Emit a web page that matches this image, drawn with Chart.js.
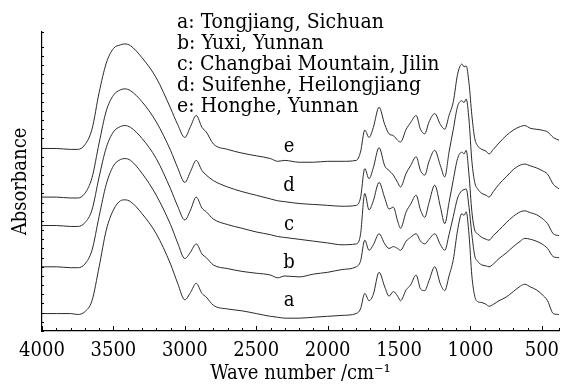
<!DOCTYPE html>
<html>
<head>
<meta charset="utf-8">
<script src="https://cdn.jsdelivr.net/npm/chart.js@4.4.0/dist/chart.umd.min.js"></script>
<style>
  body { margin: 0; background: #fff; }
  #wrap { width: 567px; height: 385px; }
</style>
</head>
<body>
<div id="wrap"><canvas id="ftir" width="567" height="385"></canvas></div>
<script>
// wave numbers (cm-1)
const wavenumbers = [4000, 3900, 3800, 3750, 3700, 3650, 3600, 3550, 3500, 3450, 3420, 3380, 3300, 3200, 3100, 3050, 3000, 2960, 2920, 2880, 2850, 2800, 2700, 2600, 2500, 2400, 2350, 2300, 2200, 2100, 2000, 1900, 1800, 1770, 1740, 1710, 1680, 1640, 1600, 1570, 1540, 1510, 1490, 1450, 1420, 1380, 1350, 1320, 1290, 1250, 1210, 1180, 1150, 1120, 1090, 1060, 1045, 1030, 1010, 990, 970, 950, 920, 890, 870, 840, 800, 750, 700, 650, 620, 580, 540, 500, 460, 420, 380];

// stacked absorbance (arbitrary units, offsets included)
const seriesA = [19, 19, 19, 18, 21, 33, 70, 110, 132, 142, 143, 141, 128, 106, 73, 52, 34, 42, 52, 41, 37, 28, 24, 22, 19, 16, 15, 14, 14, 15, 16, 17, 19, 24, 41, 33, 40, 64, 48, 38, 43, 38, 33, 45, 50, 61, 46, 44, 55, 70, 51, 44, 60, 78, 110, 128, 126, 130, 105, 60, 38, 32, 31, 29, 27, 29, 33, 37, 43, 49, 51, 48, 45, 40, 33, 19, 18];
const seriesB = [70, 70, 69, 69, 73, 88, 125, 160, 180, 187, 188, 186, 172, 148, 116, 96, 79, 86, 95, 84, 80, 72, 68, 65, 63, 61, 58, 60, 59, 62, 64, 67, 70, 76, 99, 88, 94, 106, 95, 90, 92, 90, 88, 98, 102, 106, 98, 95, 100, 106, 94, 88, 105, 125, 145, 153, 154, 155, 135, 105, 82, 76, 72, 71, 70, 73, 79, 85, 92, 98, 101, 100, 98, 95, 90, 81, 80];
const seriesC = [115, 115, 114, 114, 118, 132, 168, 200, 217, 223, 224, 222, 210, 188, 155, 136, 121, 132, 146, 134, 130, 122, 116, 112, 108, 105, 103, 102, 100, 98, 96, 94, 95, 105, 150, 132, 142, 162, 145, 133, 135, 120, 112, 130, 138, 148, 132, 124, 140, 159, 135, 117, 140, 165, 188, 195, 193, 197, 170, 130, 110, 106, 102, 100, 99, 104, 110, 118, 125, 130, 131, 129, 127, 123, 117, 106, 104];
const seriesD = [146, 146, 145, 145, 150, 167, 205, 240, 257, 263, 264, 262, 250, 228, 197, 178, 162, 174, 186, 175, 170, 164, 157, 152, 148, 144, 142, 141, 139, 138, 137, 136, 137, 145, 177, 166, 178, 200, 180, 175, 170, 162, 157, 172, 180, 190, 175, 170, 185, 197, 180, 168, 195, 220, 245, 251, 249, 253, 230, 185, 162, 155, 150, 148, 146, 152, 160, 168, 176, 181, 182, 180, 178, 175, 171, 160, 155];
const seriesE = [199, 199, 198, 198, 203, 220, 260, 292, 308, 312, 313, 311, 298, 276, 243, 225, 211, 223, 235, 222, 217, 204, 198, 194, 191, 188, 185, 186, 184, 184, 185, 185, 186, 195, 219, 211, 222, 244, 225, 215, 213, 208, 206, 220, 227, 235, 220, 215, 228, 237, 225, 220, 235, 250, 280, 291, 288, 289, 270, 235, 210, 202, 198, 196, 193, 198, 205, 213, 219, 223, 224, 221, 220, 219, 217, 211, 208];

const curveLetters = ['a', 'b', 'c', 'd', 'e'];
const letterX = 2270;
const letterY = [32.5, 74, 115.5, 158, 200.5];
const sampleNames = [
    'a: Tongjiang, Sichuan',
    'b: Yuxi, Yunnan',
    'c: Changbai Mountain, Jilin',
    'd: Suifenhe, Heilongjiang',
    'e: Honghe, Yunnan'
];

const serif = "'DejaVu Serif Condensed', 'DejaVu Serif', serif";
const allSeries = [seriesA, seriesB, seriesC, seriesD, seriesE];

// inward tick marks, curve letters and the sample list
const annotations = {
    id: 'annotations',
    afterDatasetsDraw(chart) {
        const ctx = chart.ctx;
        const xs = chart.scales.x, ys = chart.scales.y;
        const area = chart.chartArea;
        ctx.save();
        ctx.strokeStyle = '#000';
        ctx.lineWidth = 1;
        ctx.beginPath();
        xs.ticks.forEach(t => {
            const px = Math.round(xs.getPixelForValue(t.value)) + 0.5;
            const len = t.value % 500 === 0 ? 5 : 3;
            ctx.moveTo(px, area.bottom);
            ctx.lineTo(px, area.bottom - len);
        });
        ys.ticks.forEach(t => {
            const py = Math.round(ys.getPixelForValue(t.value)) + 0.5;
            ctx.moveTo(area.left, py);
            ctx.lineTo(area.left + 2, py);
        });
        ctx.stroke();

        ctx.fillStyle = '#000';
        ctx.font = '20px ' + serif;
        ctx.textAlign = 'center';
        ctx.textBaseline = 'middle';
        curveLetters.forEach((l, i) => {
            ctx.fillText(l, xs.getPixelForValue(letterX), ys.getPixelForValue(letterY[i]));
        });
        ctx.font = '21px ' + serif;
        ctx.textAlign = 'left';
        ctx.textBaseline = 'alphabetic';
        sampleNames.forEach((t, i) => ctx.fillText(t, 177, 28 + i * 21));
        ctx.restore();
    }
};

new Chart(document.getElementById('ftir'), {
    type: 'line',
    data: {
        datasets: allSeries.map((s, i) => ({
            label: curveLetters[i],
            data: wavenumbers.map((w, j) => ({ x: w, y: s[j] })),
            borderColor: '#2a2a2a',
            borderWidth: 1,
            pointRadius: 0,
            fill: false,
            cubicInterpolationMode: 'monotone'
        }))
    },
    options: {
        responsive: false,
        animation: false,
        layout: { padding: { top: 32, right: 2, left: 0, bottom: 0 } },
        plugins: { legend: { display: false }, tooltip: { enabled: false } },
        scales: {
            x: {
                type: 'linear',
                reverse: true,
                min: 380,
                max: 4000,
                afterFit: s => { s.height = 54; },
                border: { color: '#000', width: 1.2 },
                grid: { drawOnChartArea: false, drawTicks: false },
                ticks: {
                    stepSize: 100,
                    autoSkip: false,
                    maxRotation: 0,
                    padding: 8,
                    color: '#000',
                    font: { family: serif, size: 20 },
                    callback: v => (v % 500 === 0 ? v : '')
                },
                title: {
                    display: true,
                    text: 'Wave number /cm⁻¹',
                    color: '#000',
                    font: { family: serif, size: 20, lineHeight: 1 },
                    padding: { top: 0, bottom: 1 }
                }
            },
            y: {
                min: 0,
                max: 326,
                afterFit: s => { s.width = 42; },
                border: { color: '#000', width: 1.2 },
                grid: { drawOnChartArea: false, drawTicks: false },
                ticks: { display: false, stepSize: 10 },
                title: {
                    display: true,
                    text: 'Absorbance',
                    color: '#000',
                    font: { family: serif, size: 20, lineHeight: 1 },
                    padding: { top: 11, bottom: 0 }
                }
            }
        }
    },
    plugins: [annotations]
});
</script>
</body>
</html>
